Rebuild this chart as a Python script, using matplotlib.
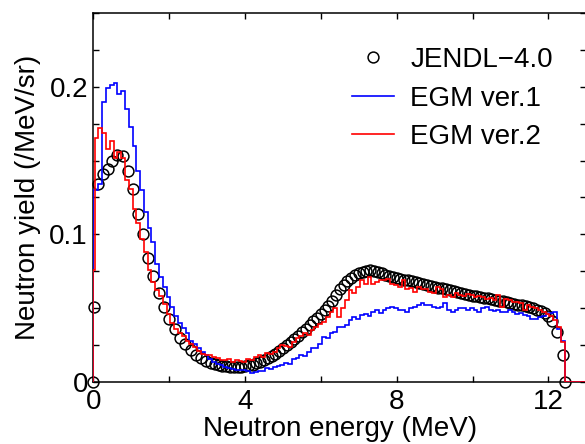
import numpy as np
import matplotlib
matplotlib.use('Agg')
import matplotlib.pyplot as plt
from matplotlib.ticker import MultipleLocator

plt.rcParams['font.family'] = ['Liberation Sans', 'DejaVu Sans']

# JENDL-4.0 (circles)
jendl_e = [0.0, 0.02, 0.13, 0.26, 0.38, 0.50, 0.63, 0.77, 0.90, 1.03, 1.17, 1.31, 1.45, 1.58,
           1.72, 1.86, 2.00, 2.14, 2.28, 2.42, 2.56, 2.70, 2.84, 2.98,
           3.1, 3.2, 3.3, 3.4, 3.5, 3.6, 3.7, 3.8, 3.9, 4.0, 4.1, 4.2, 4.3, 4.4, 4.5, 4.6, 4.7,
           4.8, 4.9, 5.0, 5.1, 5.2, 5.3, 5.4, 5.5, 5.6, 5.7, 5.8, 5.9, 6.0, 6.1, 6.2, 6.3, 6.4,
           6.5, 6.6, 6.7, 6.8, 6.9, 7.0, 7.1, 7.2, 7.3, 7.4, 7.5, 7.6, 7.7, 7.8, 7.9, 8.0, 8.1,
           8.2, 8.3, 8.4, 8.5, 8.6, 8.7, 8.8, 8.9, 9.0, 9.1, 9.2, 9.3, 9.4, 9.5, 9.6, 9.7, 9.8,
           9.9, 10.0, 10.1, 10.2, 10.3, 10.4, 10.5, 10.6, 10.7, 10.8, 10.9, 11.0, 11.1, 11.2,
           11.3, 11.4, 11.5, 11.6, 11.7, 11.8, 11.9, 12.0, 12.1, 12.22, 12.38, 12.45]
jendl_y = [0.0, 0.051, 0.134, 0.141, 0.144, 0.150, 0.154, 0.153, 0.143, 0.131, 0.114, 0.100,
           0.084, 0.072, 0.060, 0.051, 0.043, 0.036, 0.030, 0.026, 0.022, 0.018, 0.016, 0.014,
           0.0130, 0.0122, 0.0116, 0.0111, 0.0107, 0.0104, 0.0103, 0.0103, 0.0104, 0.0107,
           0.0112, 0.0118, 0.0126, 0.0135, 0.0146, 0.0160, 0.0175, 0.0192, 0.0210, 0.0230,
           0.0250, 0.0270, 0.0292, 0.0315, 0.0338, 0.0362, 0.0386, 0.0410, 0.0435, 0.0460,
           0.0488, 0.0516, 0.0548, 0.0590, 0.0628, 0.0660, 0.0686, 0.0707, 0.0725, 0.0738,
           0.0748, 0.0754, 0.0757, 0.0752, 0.0744, 0.0736, 0.0728, 0.0720, 0.0713, 0.0707,
           0.0700, 0.0694, 0.0688, 0.0682, 0.0676, 0.0670, 0.0664, 0.0658, 0.0652, 0.0646,
           0.0640, 0.0634, 0.0628, 0.0622, 0.0616, 0.0610, 0.0604, 0.0598, 0.0592, 0.0586,
           0.0581, 0.0576, 0.0571, 0.0566, 0.0561, 0.0556, 0.0551, 0.0546, 0.0541, 0.0536,
           0.0531, 0.0525, 0.0519, 0.0512, 0.0505, 0.0498, 0.0490, 0.0480, 0.0468, 0.0450,
           0.0415, 0.034, 0.018, 0.0]

# EGM histograms, 0.1 MeV bins starting at 0.03 MeV (plus a short first bin from 0)
bin_start = 0.03
bin_width = 0.1
egm1 = [0.130,
        0.130, 0.134, 0.1895, 0.1995, 0.201, 0.2025, 0.195, 0.197, 0.185, 0.1725,
        0.160, 0.143, 0.130, 0.115, 0.104, 0.095, 0.080, 0.071, 0.0644, 0.0577,
        0.051, 0.045, 0.040, 0.0363, 0.033, 0.028, 0.026, 0.0227, 0.020, 0.0185,
        0.0153, 0.0137, 0.0125, 0.0115, 0.0103, 0.0095, 0.0086, 0.0084, 0.0081, 0.0079,
        0.0077, 0.0063, 0.0070, 0.0072, 0.0077, 0.0092, 0.0088, 0.0104, 0.0108, 0.0115,
        0.0130, 0.0125, 0.0153, 0.0160, 0.0182, 0.0175, 0.0205, 0.0227, 0.0230, 0.0260,
        0.0306, 0.0295, 0.0330, 0.0340, 0.0374, 0.0370, 0.0385, 0.0420, 0.0441, 0.0430,
        0.0453, 0.0464, 0.0450, 0.0475, 0.0486, 0.0470, 0.0491, 0.0498, 0.0509, 0.0498,
        0.0486, 0.0490, 0.0475, 0.0498, 0.0505, 0.0520, 0.0532, 0.0525, 0.0520, 0.0509,
        0.0500, 0.0509, 0.0532, 0.0490, 0.0475, 0.0486, 0.0500, 0.0498, 0.0486, 0.0498,
        0.0486, 0.0475, 0.0498, 0.0509, 0.0486, 0.0480, 0.0490, 0.0475, 0.0475, 0.0486,
        0.0475, 0.0464, 0.0470, 0.0453, 0.0450, 0.0424, 0.0430, 0.0441, 0.0450, 0.0464,
        0.0470, 0.0475, 0.036, 0.028,
        0.0, 0.0, 0.0, 0.0, 0.0, 0.0]
egm2 = [0.076,
        0.165, 0.172, 0.169, 0.158, 0.1635, 0.152, 0.156, 0.152, 0.137, 0.131,
        0.117, 0.108, 0.097, 0.088, 0.076, 0.068, 0.062, 0.058, 0.053, 0.046,
        0.040, 0.036, 0.033, 0.031, 0.028, 0.026, 0.024, 0.021, 0.019, 0.018,
        0.0182, 0.0171, 0.0160, 0.0150, 0.0149, 0.0153, 0.0137, 0.0149, 0.0140, 0.0137,
        0.0153, 0.0150, 0.0167, 0.0182, 0.0171, 0.0194, 0.0190, 0.0205, 0.0227, 0.0250,
        0.0245, 0.0239, 0.0272, 0.0295, 0.0310, 0.0330, 0.0320, 0.0351, 0.0370, 0.0395,
        0.0408, 0.0441, 0.0475, 0.0498, 0.0440, 0.0500, 0.0554, 0.0620, 0.0600, 0.0644,
        0.0690, 0.0667, 0.0712, 0.0665, 0.0678, 0.0690, 0.0690, 0.0700, 0.0667, 0.0660,
        0.0644, 0.0690, 0.0633, 0.0640, 0.0610, 0.0644, 0.0633, 0.0630, 0.0610, 0.0600,
        0.0644, 0.0633, 0.0577, 0.0588, 0.0577, 0.0600, 0.0590, 0.0585, 0.0595, 0.0588,
        0.0575, 0.0583, 0.0577, 0.0560, 0.0570, 0.0555, 0.0588, 0.0509, 0.0565, 0.0555,
        0.0543, 0.0540, 0.0532, 0.0486, 0.0520, 0.0509, 0.0498, 0.0490, 0.0475, 0.0464,
        0.0450, 0.0420, 0.037, 0.027,
        0.0, 0.0, 0.0, 0.0, 0.0, 0.0]

n_bins = len(egm1) - 2
edges = np.concatenate(([0.0], np.round(bin_start + bin_width * np.arange(n_bins + 1), 2), [13.0]))

fig = plt.figure(figsize=(5.85, 4.44), dpi=100)
ax = fig.add_axes([93.5 / 585, 62 / 444, 492.7 / 585, 369 / 444])

ax.plot(jendl_e, jendl_y, 'o', mfc='none', mec='black', ms=7.8, mew=1.1,
        clip_on=False, label='JENDL\u22124.0', zorder=2)
ax.stairs(egm1, edges, color='#0000ff', lw=1.2, label='EGM ver.1', zorder=3)
ax.stairs(egm2, edges, color='#ff0000', lw=1.2, label='EGM ver.2', zorder=4)

ax.set_xlim(0, 13)
ax.set_ylim(0, 0.25)
ax.xaxis.set_major_locator(MultipleLocator(4))
ax.xaxis.set_minor_locator(MultipleLocator(2))
ax.yaxis.set_major_locator(MultipleLocator(0.1))
ax.yaxis.set_minor_locator(MultipleLocator(0.025))
ax.yaxis.set_major_formatter(lambda v, p: '0' if v == 0 else f'{v:.1f}')
ax.tick_params(which='both', direction='in', top=True, right=True,
               length=4.5, width=1.0, labelsize=20, pad=4)
ax.tick_params(axis='x', pad=5)
for s in ax.spines.values():
    s.set_linewidth(1.1)

ax.set_xlabel('Neutron energy (MeV)', fontsize=20, labelpad=1)
ax.set_ylabel('Neutron yield (/MeV/sr)', fontsize=20, labelpad=6)

ax.legend(loc='upper left', bbox_to_anchor=(352 / 585, 1 - 47 / 444),
          bbox_transform=fig.transFigure, frameon=False, fontsize=20,
          handlelength=1.5, handletextpad=0.6, labelspacing=0.45,
          borderpad=0, borderaxespad=0)

fig.savefig('out.png', dpi=100)
